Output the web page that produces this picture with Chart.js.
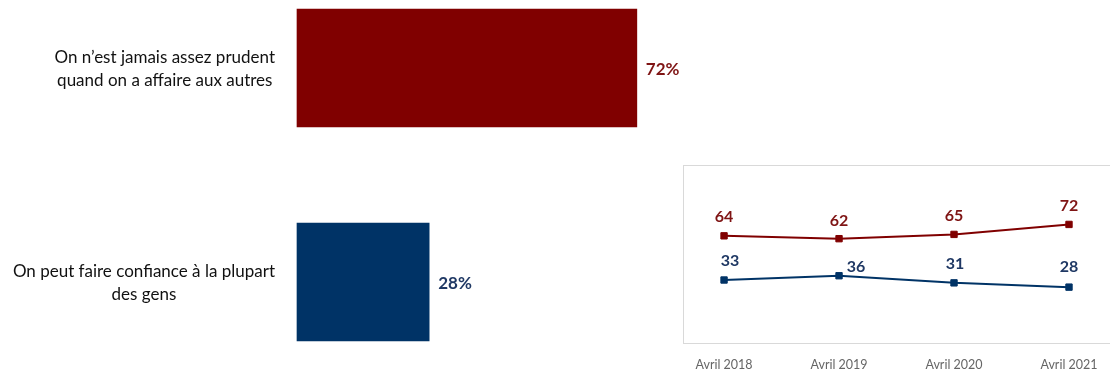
<!DOCTYPE html>
<html lang="fr">
<head>
<meta charset="utf-8">
<script src="https://cdn.jsdelivr.net/npm/chart.js@4"></script>
<style>
  html, body { margin: 0; padding: 0; background: #ffffff; overflow: hidden; }
  #wrap { position: relative; width: 1110px; height: 372px; overflow: hidden; }
  #bars { position: absolute; left: 0; top: 0; }
  #trend { position: absolute; left: 673px; top: 150px; }
</style>
</head>
<body>
<div id="wrap">
  <canvas id="bars" width="1110" height="372"></canvas>
  <canvas id="trend" width="450" height="222"></canvas>
</div>
<script>
// Answers, current wave (%)
const categories = [
    ["On n’est jamais assez prudent", "quand on a affaire aux autres"],
    ["On peut faire confiance à la plupart", "des gens"]
];
const shares = [72, 28];

// Trend since 2018
const waves = ["Avril 2018", "Avril 2019", "Avril 2020", "Avril 2021"];
const prudentTrend = [64, 62, 65, 72];
const confianceTrend = [33, 36, 31, 28];

const RED = "#800000";
const BLUE = "#003366";
const RED_TEXT = "#7f1414";
const BLUE_TEXT = "#1f3864";
const FONT = "Lato, 'Open Sans', sans-serif";

// Category labels: block right-aligned next to the bars, lines centred inside it
const categoryLabels = {
    id: "categoryLabels",
    afterDraw(chart) {
        const ctx = chart.ctx;
        const yScale = chart.scales.y;
        const right = chart.chartArea.left - 22;
        const lineHeight = 23;
        ctx.save();
        ctx.font = "17px " + FONT;
        ctx.fillStyle = "#111111";
        ctx.textAlign = "center";
        ctx.textBaseline = "middle";
        chart.data.labels.forEach((lines, i) => {
            const y = yScale.getPixelForValue(i) + 1;
            const maxW = Math.max(...lines.map(l => ctx.measureText(l).width));
            const cx = right - maxW / 2;
            const startY = y - (lines.length - 1) * lineHeight / 2;
            lines.forEach((line, k) => ctx.fillText(line, cx, startY + k * lineHeight));
        });
        ctx.restore();
    }
};

// Percentages at the end of each bar
const barValues = {
    id: "barValues",
    afterDatasetsDraw(chart) {
        const ctx = chart.ctx;
        const meta = chart.getDatasetMeta(0);
        ctx.save();
        ctx.font = "bold 17px " + FONT;
        ctx.textAlign = "left";
        ctx.textBaseline = "middle";
        meta.data.forEach((bar, i) => {
            ctx.fillStyle = i === 0 ? RED_TEXT : BLUE_TEXT;
            ctx.fillText(chart.data.datasets[0].data[i] + "%", bar.x + 9, bar.y + 2);
        });
        ctx.restore();
    }
};

new Chart(document.getElementById("bars"), {
    type: "bar",
    data: {
        labels: categories,
        datasets: [{
            data: shares,
            backgroundColor: [RED, BLUE],
            borderWidth: 0,
            barThickness: 118,
            clip: false
        }]
    },
    options: {
        indexAxis: "y",
        responsive: false,
        animation: false,
        layout: { padding: { left: 297, right: 341, top: 68, bottom: 90 } },
        scales: {
            x: { min: 0, max: 100, display: false },
            y: { display: false, offset: false }
        },
        plugins: { legend: { display: false }, tooltip: { enabled: false } }
    },
    plugins: [categoryLabels, barValues]
});

// Frame around the trend plot
const plotFrame = {
    id: "plotFrame",
    beforeDraw(chart) {
        const { left, top, right, bottom } = chart.chartArea;
        const ctx = chart.ctx;
        ctx.save();
        ctx.strokeStyle = "#d9d9d9";
        ctx.lineWidth = 1;
        ctx.strokeRect(Math.round(left) + 0.5, Math.round(top) + 0.5,
            Math.round(right - left), Math.round(bottom - top));
        ctx.restore();
    }
};

// Value above each trend point
const pointValues = {
    id: "pointValues",
    afterDatasetsDraw(chart) {
        const ctx = chart.ctx;
        ctx.save();
        ctx.font = "bold 16px " + FONT;
        ctx.textAlign = "center";
        ctx.textBaseline = "middle";
        chart.data.datasets.forEach((ds, d) => {
            const meta = chart.getDatasetMeta(d);
            ctx.fillStyle = ds.labelColor;
            meta.data.forEach((pt, i) => {
                const nudge = ds.labelNudge[i];
                ctx.fillText(ds.data[i].y, pt.x + nudge[0], pt.y - 19 + nudge[1]);
            });
        });
        ctx.restore();
    }
};

const toPoints = values => values.map((v, i) => ({ x: i, y: v }));

new Chart(document.getElementById("trend"), {
    type: "line",
    data: {
        datasets: [{
            data: toPoints(prudentTrend),
            borderColor: RED,
            backgroundColor: RED,
            borderWidth: 2,
            pointStyle: "rect",
            pointRadius: 4.5,
            pointBorderWidth: 1,
            labelColor: RED_TEXT,
            labelNudge: [[0, 0], [0, 1], [0, 0], [0, 0]]
        }, {
            data: toPoints(confianceTrend),
            borderColor: BLUE,
            backgroundColor: BLUE,
            borderWidth: 2,
            pointStyle: "rect",
            pointRadius: 4.5,
            pointBorderWidth: 1,
            labelColor: BLUE_TEXT,
            labelNudge: [[6, 0], [17, 10], [1, 0], [0, -1]]
        }]
    },
    options: {
        responsive: false,
        animation: false,
        layout: { padding: { left: 10, right: 11, top: 15, bottom: 0 } },
        scales: {
            x: {
                type: "linear",
                min: -0.357,
                max: 3.374,
                grid: { display: false, drawTicks: false },
                border: { display: false },
                afterBuildTicks: scale => { scale.ticks = waves.map((_, i) => ({ value: i })); },
                afterFit: scale => { scale.height = 29; },
                ticks: {
                    padding: 14,
                    color: "#666666",
                    font: { family: FONT, size: 12.5 },
                    callback: value => waves[value]
                }
            },
            y: { min: -11.2, max: 113.7, display: false }
        },
        plugins: { legend: { display: false }, tooltip: { enabled: false } }
    },
    plugins: [plotFrame, pointValues]
});
</script>
</body>
</html>
